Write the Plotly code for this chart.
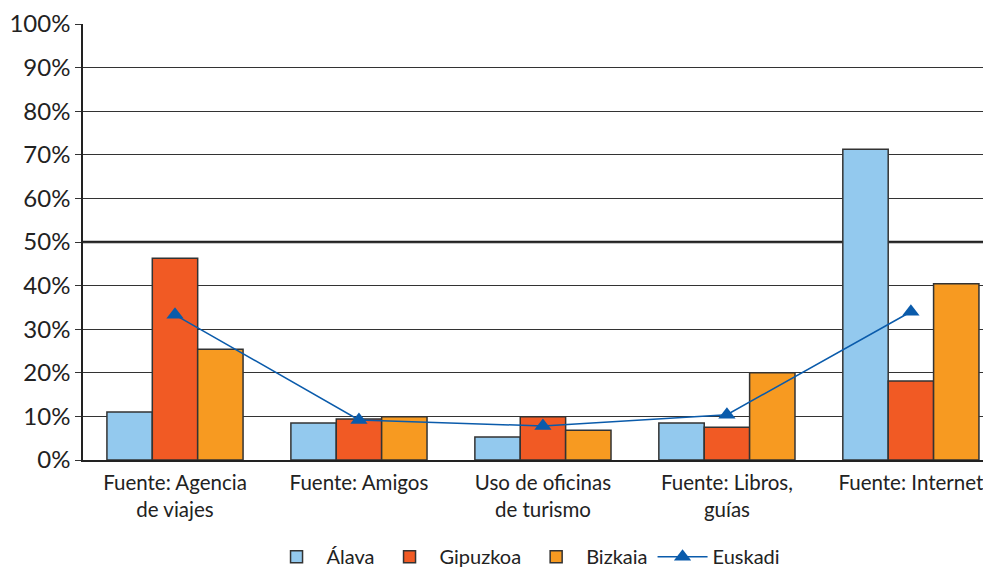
import plotly.graph_objects as go

categories = ["Fuente: Agencia<br>de viajes", "Fuente: Amigos", "Uso de oficinas<br>de turismo",
              "Fuente: Libros,<br>guías", "Fuente: Internet"]
alava = [11.0, 8.5, 5.3, 8.5, 71.3]
gipuzkoa = [46.3, 9.4, 9.9, 7.5, 18.1]
bizkaia = [25.4, 9.9, 6.8, 20.0, 40.4]
euskadi = [33.3, 9.2, 7.8, 10.4, 34.0]
tick_vals = [0, 10, 20, 30, 40, 50, 60, 70, 80, 90, 100]
tick_text = [f"{v}%" for v in tick_vals]

FONT = "Lato, 'Open Sans', sans-serif"
outline = dict(color="#333333", width=1.5)

fig = go.Figure()
fig.add_trace(go.Bar(name="Álava", x=categories, y=alava, marker=dict(color="#93c9ee", line=outline)))
fig.add_trace(go.Bar(name="Gipuzkoa", x=categories, y=gipuzkoa, marker=dict(color="#f15a24", line=outline)))
fig.add_trace(go.Bar(name="Bizkaia", x=categories, y=bizkaia, marker=dict(color="#f79a21", line=outline)))
fig.add_trace(go.Scatter(name="Euskadi", x=categories, y=euskadi, mode="lines+markers",
                         line=dict(color="#0a5bab", width=1.5),
                         marker=dict(symbol="triangle-up", size=15, color="#0a5bab")))

fig.add_shape(type="line", xref="paper", yref="y", x0=0, x1=1, y0=50, y1=50,
              line=dict(color="#222222", width=2.5), layer="below")

# page has an 8px body margin: figure drawn from (8, 8)
fig.update_layout(
    width=983, height=561,
    margin=dict(l=75, r=1, t=16, b=109, autoexpand=False),
    plot_bgcolor="white", paper_bgcolor="white",
    barmode="group", bargap=0.26, bargroupgap=0,
    font=dict(family=FONT, color="#222222"),
    showlegend=True,
    legend=dict(orientation="h", xref="container", yref="container",
                x=0.527, xanchor="center", y=0.022, yanchor="middle",
                font=dict(size=20, family=FONT), traceorder="normal",
                itemwidth=50, tracegroupgap=0),
    xaxis=dict(range=[-0.5, 4.43], showline=True, linecolor="#222222", linewidth=1.5,
               tickfont=dict(size=20.5, family=FONT), ticks="", showgrid=False,
               automargin=False, ticklabelstandoff=4),
    yaxis=dict(range=[0, 100], tickvals=tick_vals, ticktext=tick_text,
               showgrid=True, gridcolor="#333333", gridwidth=1.3,
               showline=True, linecolor="#222222", linewidth=1.5,
               ticks="outside", ticklen=6, tickcolor="#333333", tickwidth=1.3,
               tickfont=dict(size=24, family=FONT), zeroline=False,
               automargin=False),
)

fig.write_html("out.html")
